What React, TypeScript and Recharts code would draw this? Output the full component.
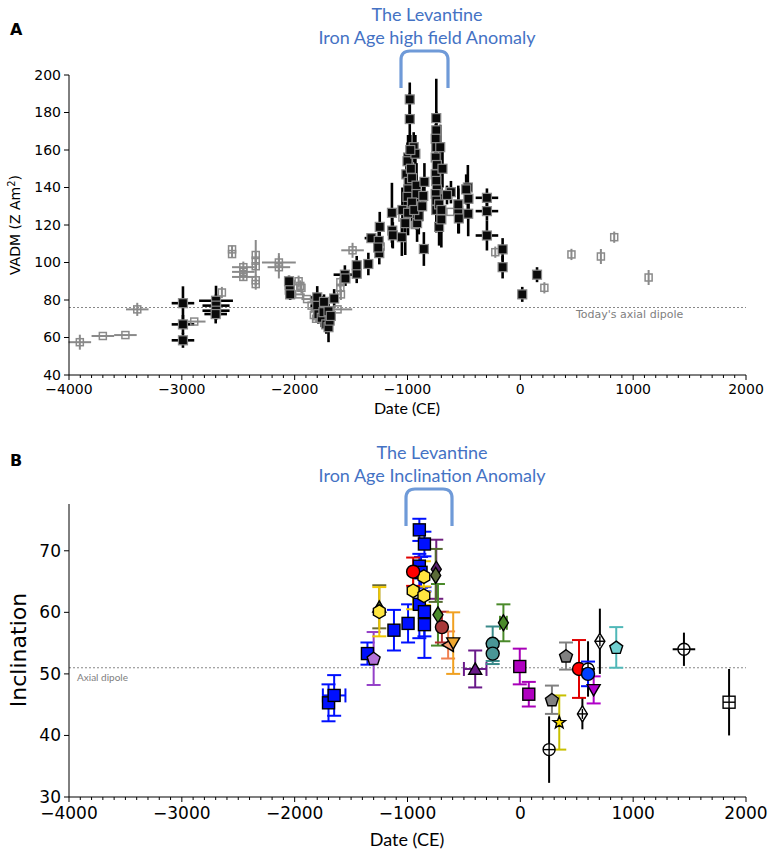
import React from "react";
import { ScatterChart, Scatter, XAxis, YAxis, ErrorBar, ReferenceLine } from "recharts";

// shared date axis
const X_MAJOR = [-4000, -3000, -2000, -1000, 0, 1000, 2000];
const X_MINOR = Array.from({ length: 61 }, (_, i) => -4000 + i * 100);
const VADM_TICKS = [40, 60, 80, 100, 120, 140, 160, 180, 200];
const INC_TICKS = [30, 40, 50, 60, 70];

type Row = [number, number, number, number]; // date, value, x error, y error

// Panel A: VADM
const vadmGray: Row[] = [
  [-3904, 57.5, 100, 4], [-3700, 60.8, 100, 0], [-3500, 61.3, 100, 0], [-3395, 75, 100, 3.5],
  [-2890, 68.5, 100, 0], [-2645, 84, 0, 3], [-2555, 107, 0, 2], [-2555, 104.5, 0, 2],
  [-2455, 97.5, 100, 3], [-2455, 95, 100, 2], [-2455, 92.3, 100, 2], [-2345, 104, 0, 8],
  [-2345, 101, 0, 5], [-2345, 98, 0, 5], [-2345, 90.5, 0, 3], [-2345, 88.5, 0, 3],
  [-2140, 100, 150, 5], [-2140, 97.5, 100, 6], [-1965, 90, 0, 3], [-1950, 87.5, 0, 3],
  [-1940, 86.5, 0, 3], [-1960, 83, 50, 0], [-1890, 80.5, 50, 0], [-1850, 77, 0, 4],
  [-1830, 72, 0, 3], [-1810, 70, 0, 2], [-1620, 75, 130, 0], [-1595, 86.5, 0, 4],
  [-1595, 89.5, 0, 3], [-1590, 83, 0, 3], [-1487, 106.5, 100, 4], [-1238, 108.5, 0, 4],
  [-1045, 124, 0, 0], [-935, 120, 0, 0], [-620, 127, 0, 0], [-222, 105.5, 0, 3],
  [213, 86.5, 0, 3], [453, 104.3, 0, 3], [714, 103.2, 0, 4], [832, 113.5, 0, 3],
  [1137, 92, 0, 4],
];

const vadmBlack: Row[] = [
  [-2990, 78.3, 100, 9], [-2990, 67, 100, 5], [-2990, 58.5, 100, 4],
  [-2697, 79.6, 150, 8], [-2697, 77, 120, 6], [-2697, 74.3, 120, 5], [-2700, 72.5, 100, 5],
  [-2044, 88, 0, 4], [-2044, 85.5, 0, 4], [-2050, 90, 0, 3], [-2040, 83, 0, 3],
  [-1800, 81.4, 60, 6], [-1800, 76.9, 60, 4], [-1790, 72.4, 0, 5], [-1760, 70.5, 0, 5],
  [-1745, 73.5, 0, 4], [-1720, 67, 0, 5], [-1700, 65.5, 0, 8], [-1690, 69, 0, 5],
  [-1700, 74, 0, 4], [-1680, 71.5, 0, 4], [-1650, 80.8, 0, 5], [-1740, 79, 0, 4],
  [-1555, 93.5, 100, 5], [-1550, 91.5, 0, 4], [-1450, 94, 0, 5], [-1450, 98.5, 0, 5],
  [-1347, 99.2, 0, 6], [-1320, 113, 60, 0],
  [-1255, 111.5, 0, 7], [-1246, 119, 0, 8], [-1250, 105, 0, 6], [-1260, 108, 0, 5],
  [-1135, 117, 0, 9], [-1130, 114.5, 0, 7], [-1138, 126.5, 0, 16],
  [-1050, 113.5, 0, 10], [-1045, 128, 0, 12], [-1020, 121, 0, 17],
  [-980, 187, 0, 9], [-980, 176.5, 0, 14], [-995, 156, 0, 12], [-1000, 154, 0, 10],
  [-1010, 147, 0, 12], [-990, 143, 0, 10], [-993, 139, 0, 12], [-1000, 135, 0, 10],
  [-995, 126.5, 0, 12], [-970, 150, 0, 10], [-960, 145, 0, 12], [-945, 161.5, 0, 8],
  [-930, 158, 0, 10], [-920, 141, 0, 12], [-920, 136.5, 0, 10], [-920, 129.5, 0, 12],
  [-915, 121, 0, 10], [-900, 125, 0, 10], [-960, 132, 0, 10], [-975, 160, 0, 8],
  [-940, 128, 0, 8], [-855, 107.2, 0, 9], [-850, 143, 0, 10], [-860, 135.5, 0, 8],
  [-870, 130, 0, 8],
  [-745, 177, 0, 21], [-745, 170.5, 0, 10], [-750, 166, 0, 8], [-745, 161.5, 0, 8],
  [-750, 156, 0, 10], [-740, 152, 0, 12], [-750, 147, 0, 10], [-745, 143.5, 0, 12],
  [-740, 139, 0, 10], [-750, 136.5, 0, 10], [-745, 133, 0, 10], [-745, 128, 0, 12],
  [-720, 119, 0, 10], [-700, 123, 0, 15], [-710, 161.5, 0, 12], [-690, 150, 0, 10],
  [-720, 131, 0, 10], [-700, 128, 0, 12],
  [-615, 137.5, 0, 6], [-650, 136, 0, 5], [-550, 127.5, 0, 12], [-550, 131, 0, 10],
  [-545, 123.5, 0, 8], [-465, 140, 0, 12], [-460, 134, 0, 8], [-462, 126, 0, 12],
  [-480, 139, 0, 8], [-296, 134.5, 100, 5], [-296, 127.4, 100, 5], [-296, 114.4, 100, 8],
  [-157, 107, 0, 6], [-157, 97.5, 0, 6], [17, 83, 0, 4], [148, 93.5, 0, 4],
];

// Panel B: inclination, one array per marker style
const blueSquares: Row[] = [
  [-1700, 45.3, 0, 3], [-1650, 46.5, 100, 3.3], [-1355, 53.3, 0, 1.8], [-1120, 57.1, 0, 3.3],
  [-995, 58.2, 0, 3.1], [-895, 73.4, 0, 1.8], [-850, 71.1, 0, 2], [-895, 67.5, 0, 2],
  [-880, 66.5, 0, 2.5], [-895, 61.3, 0, 5.5], [-850, 60.1, 0, 4], [-850, 58, 0, 5.4],
];
const redCircles: Row[] = [[-950, 66.6, 0, 2.3], [520, 50.8, 0, 4.7]];
const yellowHexagons: Row[] = [[-1250, 60.1, 0, 4], [-950, 63.5, 0, 3], [-855, 65.8, 0, 2.5], [-855, 62.7, 0, 1.5]];
const oliveTriangles: Row[] = [[-1250, 60.9, 0, 3.5]];
const lilacPentagons: Row[] = [[-1300, 52.5, 0, 4.3]];
const purpleDiamonds: Row[] = [[-745, 67, 0, 4.8]];
const oliveDiamonds: Row[] = [[-750, 66, 0, 4.3]];
const greenDiamonds: Row[] = [[-730, 59.6, 0, 5], [-150, 58.3, 30, 3]];
const brownCircles: Row[] = [[-695, 57.6, 0, 2.5]];
const salmonTriangles: Row[] = [[-640, 54.7, 0, 2.2]];
const orangeTriangles: Row[] = [[-595, 55, 0, 5]];
const purpleTriangles: Row[] = [[-400, 50.8, 100, 3]];
const tealCircles: Row[] = [[-245, 54.9, 0, 2.8], [-245, 53.3, 0, 1.7]];
const magentaSquares: Row[] = [[-5, 51.2, 0, 2.9], [75, 46.7, 0, 2]];
const grayPentagons: Row[] = [[280, 45.8, 0, 2.3], [405, 52.9, 0, 2.2]];
const yellowStars: Row[] = [[345, 42.1, 0, 4.4]];
const blueCircles: Row[] = [[600, 50, 0, 2]];
const magentaTriangles: Row[] = [[650, 47.4, 0, 2.2]];
const cyanPentagons: Row[] = [[850, 54.3, 0, 3.3]];
const openCircles: Row[] = [[255, 37.7, 0, 5.4], [600, 50.8, 60, 4.5], [1450, 54, 100, 2.7]];
const openDiamonds: Row[] = [[550, 43.5, 0, 2.5], [705, 55.3, 0, 5.3]];
const openSquares: Row[] = [[1850, 45.4, 0, 5.4]];

const toPts = (rows: Row[]) => rows.map(([date, value, ex, ey]) => ({ date, value, ex, ey }));

const seriesB = [
  { rows: blueSquares, kind: "square", fill: "#0010ff", bar: "#0010ff", caps: true },
  { rows: lilacPentagons, kind: "pentagon", fill: "#b472d8", bar: "#9440c8", caps: true },
  { rows: oliveTriangles, kind: "triUp", fill: "#5b6a2c", bar: "#6b6b33", caps: true },
  { rows: yellowHexagons, kind: "hexagon", fill: "#ffe640", bar: "#f0c800", caps: true },
  { rows: redCircles, kind: "circle", fill: "#ff0000", bar: "#e00000", caps: true },
  { rows: purpleDiamonds, kind: "diamond", fill: "#5a2070", bar: "#702080", caps: true },
  { rows: oliveDiamonds, kind: "diamond", fill: "#5b6b38", bar: "#556b2f", caps: true },
  { rows: greenDiamonds, kind: "diamond", fill: "#4a8a2a", bar: "#4a8a2a", caps: true },
  { rows: brownCircles, kind: "circle", fill: "#a83a3a", bar: "#b03030", caps: true },
  { rows: salmonTriangles, kind: "triLeft", fill: "#f4a070", bar: "#f08050", caps: true },
  { rows: orangeTriangles, kind: "triDown", fill: "#f0a830", bar: "#f0a020", caps: true },
  { rows: purpleTriangles, kind: "triUp", fill: "#6a1a8a", bar: "#6a1a8a", caps: true },
  { rows: tealCircles, kind: "circle", fill: "#4a9696", bar: "#3a8a8a", caps: true },
  { rows: magentaSquares, kind: "square", fill: "#b000c0", bar: "#a800b8", caps: true },
  { rows: grayPentagons, kind: "pentagon", fill: "#808080", bar: "#808080", caps: true },
  { rows: yellowStars, kind: "star", fill: "#ffe000", bar: "#c8c000", caps: true },
  { rows: openCircles, kind: "circleCross", fill: "#ffffff", bar: "#000000", caps: false },
  { rows: blueCircles, kind: "circle", fill: "#0040ff", bar: "#0010ff", caps: true },
  { rows: magentaTriangles, kind: "triDown", fill: "#b000d0", bar: "#b000c8", caps: true },
  { rows: cyanPentagons, kind: "pentagon", fill: "#70d0d0", bar: "#50b8b8", caps: true },
  { rows: openDiamonds, kind: "diamondCross", fill: "#ffffff", bar: "#000000", caps: false },
  { rows: openSquares, kind: "squareCross", fill: "#ffffff", bar: "#000000", caps: false },
];

const SANS = "'DejaVu Sans', sans-serif";
const TITLE = "Lato, 'Open Sans', sans-serif";
const BLUE = "#4472c4";

const poly = (cx: number, cy: number, r: number, n: number, rot: number) =>
  Array.from({ length: n }, (_, i) => {
    const a = rot + (i * 2 * Math.PI) / n;
    return `${cx + r * Math.cos(a)},${cy + r * Math.sin(a)}`;
  }).join(" ");

function Marker({ cx, cy, kind, fill }: any) {
  if (cx == null || cy == null) return null;
  const st = { fill, stroke: "#000", strokeWidth: 1.4 };
  const cross = (h: number) => (
    <>
      <line x1={cx - h} x2={cx + h} y1={cy} y2={cy} stroke="#000" strokeWidth={1.4} />
      <line x1={cx} x2={cx} y1={cy - h} y2={cy + h} stroke="#000" strokeWidth={1.4} />
    </>
  );
  const thin = `${cx},${cy - 8} ${cx + 5},${cy} ${cx},${cy + 8} ${cx - 5},${cy}`;
  switch (kind) {
    case "square":
      return <rect x={cx - 6} y={cy - 6} width={12} height={12} {...st} />;
    case "circle":
      return <circle cx={cx} cy={cy} r={6.5} {...st} />;
    case "hexagon":
      return <polygon points={poly(cx, cy, 6.8, 6, -Math.PI / 2)} {...st} />;
    case "pentagon":
      return <polygon points={poly(cx, cy + 0.5, 6.8, 5, -Math.PI / 2)} {...st} />;
    case "triUp":
      return <polygon points={poly(cx, cy + 1.5, 7.5, 3, -Math.PI / 2)} {...st} />;
    case "triDown":
      return <polygon points={poly(cx, cy - 1.5, 7.5, 3, Math.PI / 2)} {...st} />;
    case "triLeft":
      return <polygon points={poly(cx + 1.5, cy, 7.5, 3, Math.PI)} {...st} />;
    case "diamond":
      return <polygon points={thin} {...st} />;
    case "star": {
      const pts = Array.from({ length: 10 }, (_, i) => {
        const r = i % 2 === 0 ? 6.5 : 2.7;
        const a = -Math.PI / 2 + (i * Math.PI) / 5;
        return `${cx + r * Math.cos(a)},${cy + r * Math.sin(a)}`;
      }).join(" ");
      return <polygon points={pts} {...st} />;
    }
    case "circleCross":
      return (
        <g>
          <circle cx={cx} cy={cy} r={6} {...st} />
          {cross(6)}
        </g>
      );
    case "diamondCross":
      return (
        <g>
          <polygon points={thin} {...st} />
          {cross(5)}
        </g>
      );
    case "squareCross":
      return (
        <g>
          <rect x={cx - 6} y={cy - 6} width={12} height={12} {...st} />
          {cross(6)}
        </g>
      );
    default:
      return null;
  }
}

function SquareA({ cx, cy, dark }: any) {
  if (cx == null || cy == null) return null;
  return dark ? (
    <rect x={cx - 4.5} y={cy - 4.5} width={9} height={9} fill="#0a0a0a" stroke="#8a8a8a" strokeWidth={1.2} />
  ) : (
    <rect x={cx - 3.5} y={cy - 3.5} width={7} height={7} fill="none" stroke="#8a8a8a" strokeWidth={1.5} />
  );
}

function DateTick({ x, y, payload, fs }: any) {
  const v = payload.value;
  const major = X_MAJOR.includes(v);
  const label = v < 0 ? `\u2212${-v}` : `${v}`;
  return (
    <g>
      <line x1={x} x2={x} y1={y} y2={y + (major ? 5 : 3)} stroke="#000" strokeWidth={1} />
      {major && (
        <text x={x} y={y + 6 + fs * 0.95} textAnchor="middle" fontSize={fs} fontFamily={SANS} fill="#000">
          {label}
        </text>
      )}
    </g>
  );
}

function Bracket({ x1, x2, top, bottom }: any) {
  const r = 9;
  return (
    <path
      d={`M${x1},${bottom} L${x1},${top + r} Q${x1},${top} ${x1 + r},${top} L${x2 - r},${top} Q${x2},${top} ${x2},${top + r} L${x2},${bottom}`}
      fill="none"
      stroke="#6f9ad8"
      strokeWidth={3.2}
    />
  );
}

export default function App() {
  const grayPts = toPts(vadmGray);
  const blackPts = toPts(vadmBlack);
  return (
    <div style={{ position: "relative", width: 772, height: 857, background: "#fff", fontFamily: SANS }}>
      <style>{"body{margin:0}"}</style>

      <div style={{ position: "absolute", left: 0, top: 0 }}>
        <ScatterChart width={772} height={430} margin={{ top: 75, right: 26, bottom: 15, left: 0 }}>
          <XAxis
            type="number"
            dataKey="date"
            domain={[-4000, 2000]}
            allowDataOverflow
            ticks={X_MINOR}
            interval={0}
            tickSize={0}
            tickMargin={0}
            height={40}
            axisLine={{ stroke: "#000" }}
            tickLine={false}
            tick={(p: any) => <DateTick {...p} fs={14} />}
          />
          <YAxis
            type="number"
            dataKey="value"
            domain={[40, 200]}
            allowDataOverflow
            ticks={VADM_TICKS}
            interval={0}
            width={69}
            tickSize={5}
            tickMargin={3}
            axisLine={{ stroke: "#000" }}
            tickLine={{ stroke: "#000" }}
            tick={{ fontSize: 14, fill: "#000", fontFamily: SANS }}
          />
          <ReferenceLine y={76} stroke="#888" strokeDasharray="2 2" strokeWidth={1.2} />
          <Scatter data={grayPts} isAnimationActive={false} shape={(p: any) => <SquareA {...p} />}>
            <ErrorBar dataKey="ex" direction="x" width={0} stroke="#8a8a8a" strokeWidth={2} />
            <ErrorBar dataKey="ey" direction="y" width={0} stroke="#8a8a8a" strokeWidth={2} />
          </Scatter>
          <Scatter data={blackPts} isAnimationActive={false} shape={(p: any) => <SquareA {...p} dark />}>
            <ErrorBar dataKey="ex" direction="x" width={0} stroke="#000" strokeWidth={2.6} />
            <ErrorBar dataKey="ey" direction="y" width={0} stroke="#000" strokeWidth={2.6} />
          </Scatter>
        </ScatterChart>
      </div>

      <div style={{ position: "absolute", left: 0, top: 440 }}>
        <ScatterChart width={772} height={417} margin={{ top: 64, right: 26, bottom: 20, left: 0 }}>
          <XAxis
            type="number"
            dataKey="date"
            domain={[-4000, 2000]}
            allowDataOverflow
            ticks={X_MINOR}
            interval={0}
            tickSize={0}
            tickMargin={0}
            height={40}
            axisLine={{ stroke: "#000" }}
            tickLine={false}
            tick={(p: any) => <DateTick {...p} fs={17} />}
          />
          <YAxis
            type="number"
            dataKey="value"
            domain={[30, 77.6]}
            allowDataOverflow
            ticks={INC_TICKS}
            interval={0}
            width={69}
            tickSize={5}
            tickMargin={3}
            axisLine={{ stroke: "#000" }}
            tickLine={{ stroke: "#000" }}
            tick={{ fontSize: 17, fill: "#000", fontFamily: SANS }}
          />
          <ReferenceLine y={51} stroke="#888" strokeDasharray="2 2" strokeWidth={1.2} />
          {seriesB.map((s, i) => (
            <Scatter
              key={i}
              data={toPts(s.rows)}
              isAnimationActive={false}
              shape={(p: any) => <Marker cx={p.cx} cy={p.cy} kind={s.kind} fill={s.fill} />}
            >
              <ErrorBar dataKey="ex" direction="x" width={s.caps ? 7 : 0} stroke={s.bar} strokeWidth={2} />
              <ErrorBar dataKey="ey" direction="y" width={s.caps ? 7 : 0} stroke={s.bar} strokeWidth={2} />
            </Scatter>
          ))}
        </ScatterChart>
      </div>

      <svg width={772} height={857} style={{ position: "absolute", left: 0, top: 0, pointerEvents: "none" }}>
        <text x={10} y={35} fontSize={16} fontWeight="bold" fontFamily={SANS}>A</text>
        <text x={10} y={466} fontSize={16} fontWeight="bold" fontFamily={SANS}>B</text>

        <g fontFamily={TITLE} fontSize={18} fill={BLUE} textAnchor="middle">
          <text x={427} y={21}>The Levantine</text>
          <text x={427} y={44}>Iron Age high field Anomaly</text>
          <text x={432} y={459}>The Levantine</text>
          <text x={432} y={482}>Iron Age Inclination Anomaly</text>
        </g>
        <Bracket x1={401} x2={448} top={51} bottom={88} />
        <Bracket x1={406} x2={452} top={489} bottom={526} />

        <text transform="translate(20,225) rotate(-90)" textAnchor="middle" fontSize={14} fontFamily={SANS}>
          VADM (Z Am<tspan dy={-5} fontSize={10}>2</tspan>
          <tspan dy={5}>)</tspan>
        </text>
        <text transform="translate(26,650) rotate(-90)" textAnchor="middle" fontSize={22} fontFamily={SANS}>
          Inclination
        </text>

        <text x={407} y={414} textAnchor="middle" fontSize={16} fontFamily={TITLE}>Date (CE)</text>
        <text x={407} y={846} textAnchor="middle" fontSize={18} fontFamily={TITLE}>Date (CE)</text>

        <text x={576} y={318} fontSize={11} fill="#808080" fontFamily={SANS}>Today's axial dipole</text>
        <text x={77} y={681} fontSize={10} fill="#808080" fontFamily={TITLE}>Axial dipole</text>
      </svg>
    </div>
  );
}
